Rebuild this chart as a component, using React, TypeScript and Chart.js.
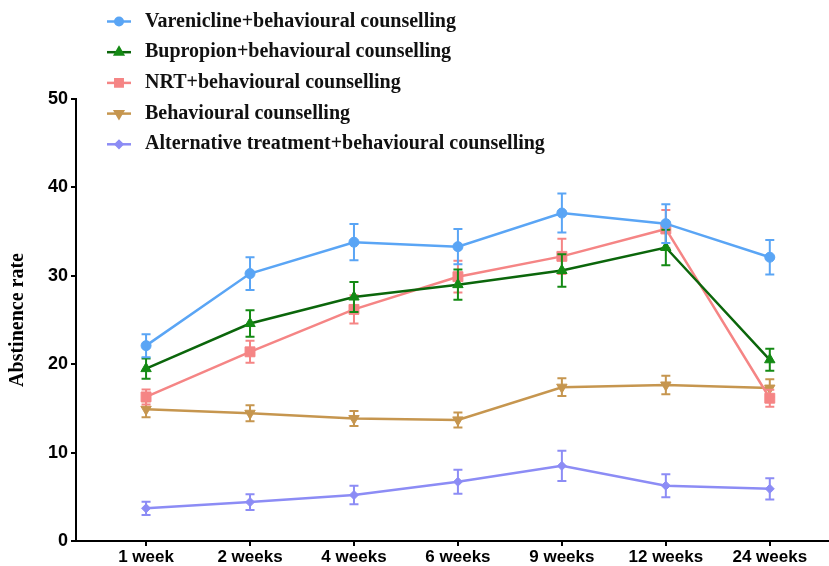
import React, { useEffect, useRef } from 'react';
import { Chart, registerables } from 'chart.js';
import { drawPoint } from 'chart.js/helpers';

Chart.register(...registerables);

const categories = ['1 week', '2 weeks', '4 weeks', '6 weeks', '9 weeks', '12 weeks', '24 weeks'];
const seriesNames = [
  'Varenicline+behavioural counselling',
  'Bupropion+behavioural counselling',
  'NRT+behavioural counselling',
  'Behavioural counselling',
  'Alternative treatment+behavioural counselling',
];
const vareniclineMean = [22.1, 30.25, 33.8, 33.3, 37.1, 35.9, 32.1];
const vareniclineErr = [1.3, 1.85, 2.05, 2.0, 2.2, 2.2, 1.95];
const bupropionMean = [19.5, 24.6, 27.6, 29.0, 30.6, 33.2, 20.5];
const bupropionErr = [1.15, 1.5, 1.7, 1.7, 1.85, 2.0, 1.25];
const nrtMean = [16.3, 21.4, 26.2, 29.9, 32.2, 35.3, 16.15];
const nrtErr = [0.85, 1.25, 1.6, 1.8, 2.0, 2.15, 0.95];
const behaviouralMean = [14.9, 14.45, 13.85, 13.7, 17.4, 17.65, 17.3];
const behaviouralErr = [0.9, 0.9, 0.85, 0.85, 1.0, 1.05, 1.0];
const alternativeMean = [3.7, 4.4, 5.2, 6.7, 8.5, 6.26, 5.9];
const alternativeErr = [0.75, 0.9, 1.05, 1.35, 1.7, 1.3, 1.2];
const yTicks = [0, 10, 20, 30, 40, 50];

const seriesMeans = [vareniclineMean, bupropionMean, nrtMean, behaviouralMean, alternativeMean];
const seriesErrs = [vareniclineErr, bupropionErr, nrtErr, behaviouralErr, alternativeErr];
const lineColors = ['#5AA5F5', '#0B660B', '#F58585', '#C6964F', '#8C8CF5'];
const markerColors = ['#5AA5F5', '#148A14', '#F58585', '#C6964F', '#8C8CF5'];
const markerStyles = ['circle', 'triangle', 'rect', 'triangle', 'rectRot'];
const markerRotations = [0, 0, 0, 180, 0];
const markerRadii = [5, 6, 7, 6, 4.5];

const errorBarPlugin = {
  id: 'errorBars',
  afterDatasetDraw(chart: any, args: any) {
    const ds: any = chart.data.datasets[args.index];
    const errs: number[] = ds.errors;
    if (!errs) return;
    const yScale = chart.scales.y;
    const ctx = chart.ctx;
    ctx.save();
    ctx.strokeStyle = ds.errorColor;
    ctx.lineWidth = 2;
    args.meta.data.forEach((pt: any, i: number) => {
      const v = ds.data[i].y;
      const e = errs[i];
      const yt = yScale.getPixelForValue(v + e);
      const yb = yScale.getPixelForValue(v - e);
      const x = pt.x;
      ctx.beginPath();
      ctx.moveTo(x, yt);
      ctx.lineTo(x, yb);
      ctx.moveTo(x - 4.5, yt);
      ctx.lineTo(x + 4.5, yt);
      ctx.moveTo(x - 4.5, yb);
      ctx.lineTo(x + 4.5, yb);
      ctx.stroke();
    });
    ctx.restore();
  },
};

const legendPlugin = {
  id: 'columnLegend',
  afterDraw(chart: any) {
    const ctx = chart.ctx;
    ctx.save();
    chart.data.datasets.forEach((ds: any, i: number) => {
      const y = 21.5 + i * 30.7;
      ctx.strokeStyle = ds.borderColor;
      ctx.lineWidth = 2.5;
      ctx.beginPath();
      ctx.moveTo(107, y);
      ctx.lineTo(131, y);
      ctx.stroke();
      ctx.fillStyle = ds.pointBackgroundColor;
      ctx.strokeStyle = ds.pointBackgroundColor;
      drawPoint(ctx, { pointStyle: ds.pointStyle, rotation: ds.pointRotation, radius: ds.pointRadius * 0.75, borderWidth: 1 } as any, 119, y);
      ctx.fillStyle = '#111';
      ctx.font = 'bold 20px "Liberation Serif", "Times New Roman", serif';
      ctx.textBaseline = 'middle';
      ctx.textAlign = 'left';
      ctx.fillText(ds.label, 145, y);
    });
    ctx.restore();
  },
};

export default function App() {
  const canvasRef = useRef<HTMLCanvasElement | null>(null);

  useEffect(() => {
    document.body.style.margin = '0';
    const canvas = canvasRef.current;
    if (!canvas) return;
    const datasets = seriesNames.map((name, s) => ({
      label: name,
      data: seriesMeans[s].map((y, i) => ({ x: i, y })),
      errors: seriesErrs[s],
      errorColor: markerColors[s],
      borderColor: lineColors[s],
      backgroundColor: markerColors[s],
      pointBackgroundColor: markerColors[s],
      pointBorderColor: markerColors[s],
      pointBorderWidth: 1,
      pointStyle: markerStyles[s],
      pointRotation: markerRotations[s],
      pointRadius: markerRadii[s],
      borderWidth: 2.5,
      tension: 0,
      fill: false,
      clip: false,
    }));

    const chart = new Chart(canvas, {
      type: 'line',
      data: { datasets: datasets as any },
      plugins: [errorBarPlugin, legendPlugin],
      options: {
        animation: false,
        responsive: false,
        devicePixelRatio: 1,
        layout: { autoPadding: false, padding: { top: 99, right: 1, left: 0, bottom: 0 } },
        plugins: {
          legend: { display: false },
          tooltip: { enabled: false },
        },
        scales: {
          x: {
            type: 'linear',
            min: -0.674,
            max: 6.56,
            afterBuildTicks: (scale: any) => {
              scale.ticks = categories.map((_, i) => ({ value: i }));
            },
            afterFit: (scale: any) => {
              scale.height = 25;
              scale.paddingLeft = 0;
              scale.paddingRight = 0;
            },
            ticks: {
              autoSkip: false,
              maxRotation: 0,
              padding: 1,
              color: '#000',
              font: { family: '"Liberation Sans", Arial, sans-serif', weight: 'bold', size: 17 },
              callback: (v: any) => categories[v as number] ?? '',
            },
            grid: { drawOnChartArea: false, drawTicks: true, tickLength: 5, color: '#000', lineWidth: 2 },
            border: { display: true, color: '#000', width: 2 },
          },
          y: {
            min: 0,
            max: 50,
            afterBuildTicks: (scale: any) => {
              scale.ticks = yTicks.map((v) => ({ value: v }));
            },
            afterFit: (scale: any) => {
              scale.width = 76;
            },
            ticks: {
              padding: 3,
              color: '#000',
              font: { family: '"Liberation Sans", Arial, sans-serif', weight: 'bold', size: 18 },
            },
            grid: { drawOnChartArea: false, drawTicks: true, tickLength: 5, color: '#000', lineWidth: 2 },
            border: { display: true, color: '#000', width: 2 },
            title: {
              display: true,
              text: 'Abstinence rate',
              color: '#000',
              padding: { top: 6, bottom: 0 },
              font: { family: '"Liberation Serif", "Times New Roman", serif', weight: 'bold', size: 20 },
            },
          },
        },
      } as any,
    });
    return () => chart.destroy();
  }, []);

  return (
    <div style={{ width: 829, height: 566, position: 'relative' }}>
      <canvas ref={canvasRef} width={829} height={566} style={{ display: 'block' }} />
    </div>
  );
}
